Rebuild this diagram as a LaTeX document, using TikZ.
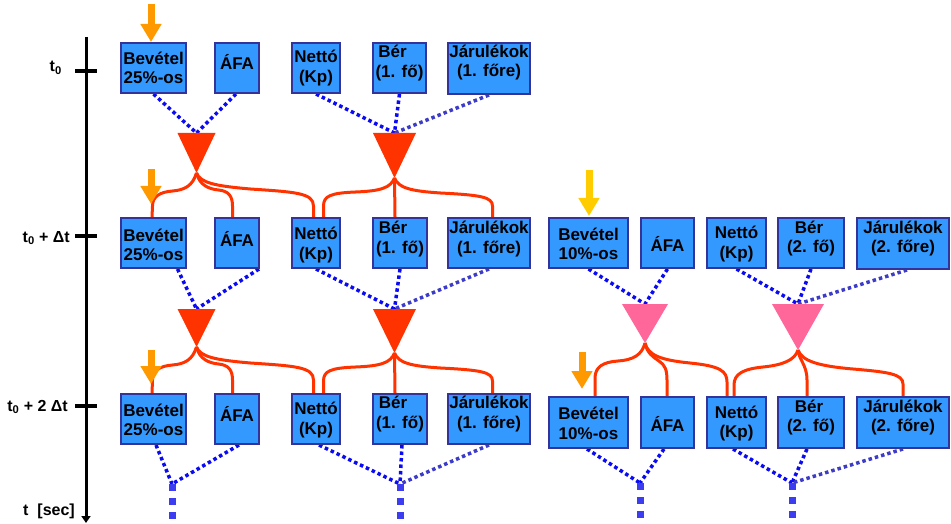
\documentclass[tikz,border=0pt]{standalone}
\usepackage{fontspec}
\setmainfont{Liberation Sans}
\usetikzlibrary{arrows.meta,calc,backgrounds}
\definecolor{boxfill}{HTML}{3399FF}
\definecolor{boxline}{HTML}{333399}
\definecolor{redc}{HTML}{FF3300}
\definecolor{pinkc}{HTML}{FF6699}
\definecolor{orangec}{HTML}{FF9900}
\definecolor{yellowc}{HTML}{FFCC00}
\definecolor{dotc}{HTML}{0A0AF5}
\definecolor{jdotc}{HTML}{3C3CC8}
\definecolor{sqc}{HTML}{3C3CF0}

% box: name x1 y1 x2 y2 text dy
\newcommand\bx[7]{%
  \node[box, minimum width={(#4-#2-2)*1pt}, minimum height={(#5-#3-2)*1pt}] (#1) at ({(#2+#4)/2},{(#3+#5)/2}) {};
  \node[boxtext] (#1-t) at ([yshift=#7pt]#1.center) {#6};}
% triangle: name cx ytop halfwidth yapex colour
\newcommand\mytri[6]{%
  \coordinate (#1t) at (#2,#3);
  \coordinate (#1a) at (#2,#5);
  \fill[#6] ($(#1t)+(-#4,0)$) -- ($(#1t)+(#4,0)$) -- (#1a) -- cycle;}
% left fan of wires: apex1 apex2 row prefix
\newcommand\leftfan[3]{%
  \begin{scope}[shift={(#1)}]
  \draw[wire] (#1) .. controls (-4,13) and (-12,17) .. (-24,18) .. controls (-36,19) and (-44,23) .. (-44,33) -- ([xshift=-1.5pt]#3bev.north);
  \draw[wire] (#1) .. controls (3,12) and (12,16) .. (22,17) .. controls (32,18) and (36,23) .. (36,33) -- ([xshift=-4.5pt]#3afa.north);
  \draw[wire] (#1) .. controls (4,10) and (19,13) .. (54,16) .. controls (99,19) and (117,20) .. (117,33) -- ([xshift=-2.5pt]#3net.north);
  \end{scope}
  \begin{scope}[shift={(#2)}]
  \draw[wire] (#2) .. controls (-4,10) and (-14,13) .. (-39,14) .. controls (-64,15) and (-71,18) .. (-71,28) -- ([xshift=7.5pt]#3net.north);
  \draw[wire] (#2) -- ([xshift=-5pt]#3ber.north);
  \draw[wire] (#2) .. controls (4,10) and (16,13) .. (46,15) .. controls (86,17) and (98,19) .. (98,28) -- ([xshift=3.5pt]#3jar.north);
  \end{scope}}

\begin{document}
\begin{tikzpicture}[x=1pt,y=-1pt,
  box/.style={draw=boxline,fill=boxfill,line width=2pt,inner sep=0pt,rectangle},
  boxtext/.style={font=\bfseries\fontsize{17}{19.5}\selectfont,align=center,inner sep=0pt},
  dots/.style={draw=dotc,line width=3.5pt,dash pattern=on 3.5pt off 3pt},
  jdots/.style={dots,draw=jdotc},
  sq/.style={draw=sqc,line width=7pt,dash pattern=on 7pt off 7pt},
  wire/.style={draw=redc,line width=3pt},
  fat/.style={line width=7pt,-{Triangle[width=20pt,length=18pt]}},
  lab/.style={font=\bfseries\fontsize{16}{19}\selectfont,anchor=base east,inner sep=0pt}]

\useasboundingbox (0,0) rectangle (951,524);

% time axis
\coordinate (axtop) at (86,37);
\coordinate (axbot) at (86,523);
\draw[line width=3pt,-{Triangle[width=9pt,length=7pt]}] (axtop) -- (axbot);
\foreach \n/\y in {k0/71,k1/236,k2/406}{
  \coordinate (\n) at (86,\y);
  \draw[line width=4pt] ([xshift=-11pt]\n) -- ([xshift=11pt]\n);}
\node[lab] (l0) at (62,72) {t\textsubscript{0}};
\node[lab] (l1) at (70,242) {t\textsubscript{0} + Δt};
\node[lab] (l2) at (68,411) {t\textsubscript{0} + 2 Δt};
\node[lab] (l3) at (75,515) {t\ \ [sec]};

% row 1
\bx{r1bev}{120}{42}{187}{94}{Bevétel\\25\%-os}{0}
\bx{r1afa}{214}{42}{260}{94}{ÁFA}{6}
\bx{r1net}{291}{42}{341}{94}{Nettó\\(Kp)}{0}
\bx{r1ber}{372}{42}{427}{94}{Bér\kern14pt\\(1. fő)}{5}
\bx{r1jar}{447}{42}{531}{95}{Járulékok\\(1. főre)}{6}

% row 2 left
\bx{r2bev}{120}{217}{187}{269}{Bevétel\\25\%-os}{-2}
\bx{r2afa}{214}{217}{260}{269}{ÁFA}{4}
\bx{r2net}{291}{217}{341}{269}{Nettó\\(Kp)}{-2}
\bx{r2ber}{372}{217}{428}{269}{Bér\kern14pt\\(1. fő)}{4}
\bx{r2jar}{447}{217}{531}{269}{Járulékok\\(1. főre)}{4}

% row 2 right
\bx{q2bev}{548}{217}{629}{269}{Bevétel\\10\%-os}{-1}
\bx{q2afa}{640}{217}{695}{269}{ÁFA}{-1}
\bx{q2net}{706}{217}{767}{269}{Nettó\\(Kp)}{-1}
\bx{q2ber}{777}{217}{845}{269}{Bér\kern4pt\\(2. fő)}{4.5}
\bx{q2jar}{856}{217}{950}{270}{Járulékok\\(2. főre)}{5}

% row 3 left
\bx{r3bev}{120}{393}{187}{445}{Bevétel\\25\%-os}{-1}
\bx{r3afa}{214}{393}{260}{445}{ÁFA}{5}
\bx{r3net}{291}{393}{341}{445}{Nettó\\(Kp)}{-1}
\bx{r3ber}{372}{393}{428}{445}{Bér\kern14pt\\(1. fő)}{5}
\bx{r3jar}{447}{393}{531}{445}{Járulékok\\(1. főre)}{5}

% row 3 right
\bx{q3bev}{548}{396}{629}{449}{Bevétel\\10\%-os}{-1}
\bx{q3afa}{640}{396}{695}{449}{ÁFA}{-1.5}
\bx{q3net}{706}{396}{767}{449}{Nettó\\(Kp)}{-1}
\bx{q3ber}{777}{396}{845}{449}{Bér\kern4pt\\(2. fő)}{5}
\bx{q3jar}{856}{396}{950}{449}{Járulékok\\(2. főre)}{5}

% triangles
\mytri{T1}{196.5}{133}{19}{173}{redc}
\mytri{T2}{394.5}{133}{21.5}{178}{redc}
\mytri{U1}{196.5}{309}{19}{347}{redc}
\mytri{U2}{394.5}{309}{21.5}{353}{redc}
\mytri{P1}{645}{304}{23}{343}{pinkc}
\mytri{P2}{798}{304}{26}{350}{pinkc}

\coordinate (J1) at (172,484);
\coordinate (J2) at (400,484);
\coordinate (K1) at (640,483);
\coordinate (K2) at (792,483);

\begin{scope}[on background layer]
% dotted inputs, row 1
\draw[dots] (r1bev.south) -- (T1t);
\draw[dots] ([xshift=-1pt]r1afa.south) -- (T1t);
\draw[dots] (r1net.south) -- (T2t);
\draw[dots] (r1ber.south) -- (T2t);
\draw[jdots] (r1jar.south) -- (T2t);
% row 2 left
\draw[dots] ([xshift=24pt]r2bev.south) -- (U1t);
\draw[dots] ([xshift=22pt]r2afa.south) -- (U1t);
\draw[dots] (r2net.south) -- (U2t);
\draw[dots] (r2ber.south) -- (U2t);
\draw[jdots] (r2jar.south) -- (U2t);
% row 2 right
\draw[dots] (q2bev.south) -- (P1t);
\draw[dots] (q2afa.south) -- (P1t);
\draw[dots] (q2net.south) -- (P2t);
\draw[dots] (q2ber.south) -- (P2t);
\draw[jdots] ([xshift=4pt]q2jar.south) -- (P2t);
% row 3 left
\draw[dots] ([xshift=2.5pt]r3bev.south) -- (J1);
\draw[dots] ([xshift=2pt]r3afa.south) -- (J1);
\draw[dots] ([xshift=3pt]r3net.south) -- (J2);
\draw[dots] ([xshift=2pt]r3ber.south) -- (J2);
\draw[jdots] (r3jar.south) -- (J2);
\draw[sq] (J1) -- ++(0,36);
\draw[sq] (J2) -- ++(0,36);
% row 3 right
\draw[dots] ([xshift=-1.5pt]q3bev.south) -- (K1);
\draw[dots] ([xshift=-3.5pt]q3afa.south) -- (K1);
\draw[dots] ([xshift=-3.5pt]q3net.south) -- (K2);
\draw[dots] ([xshift=-4pt]q3ber.south) -- (K2);
\draw[jdots] (q3jar.south) -- (K2);
\draw[sq] (K1) -- ++(0,36);
\draw[sq] (K2) -- ++(0,36);

% red wires
\leftfan{T1a}{T2a}{r2}
\leftfan{U1a}{U2a}{r3}
\begin{scope}[shift={(P1a)}]
\draw[wire] (P1a) .. controls (-3,12) and (-12,17) .. (-27,18) .. controls (-42,19) and (-50,24) .. (-50,35) -- ([xshift=6.5pt]q3bev.north);
\draw[wire] (P1a) .. controls (2,10) and (8,14) .. (14,18) .. controls (20,22) and (22,27) .. (22,37) -- ([xshift=-0.5pt]q3afa.north);
\draw[wire] (P1a) .. controls (3,12) and (15,17) .. (45,20) .. controls (75,23) and (82,28) .. (82,39) -- ([xshift=-9.5pt]q3net.north);
\end{scope}
\begin{scope}[shift={(P2a)}]
\draw[wire] (P2a) .. controls (-3,10) and (-15,15) .. (-35,17) .. controls (-55,19) and (-64,24) .. (-64,35) -- ([xshift=-2.5pt]q3net.north);
\draw[wire] (P2a) .. controls (1,10) and (9,15) .. (9,30) -- ([xshift=-4pt]q3ber.north);
\draw[wire] (P2a) .. controls (4,11) and (20,16) .. (55,19) .. controls (90,22) and (105,24) .. (105,34) -- (q3jar.north);
\end{scope}
\end{scope}

% fat input arrows
\draw[fat,orangec] ([xshift=-2.5pt,yshift=38pt]r1bev.north) -- ([xshift=-2.5pt]r1bev.north);
\draw[fat,orangec] ([xshift=-2.5pt,yshift=48pt]r2bev.north) -- ([xshift=-2.5pt,yshift=13pt]r2bev.north);
\draw[fat,yellowc] ([xshift=0.5pt,yshift=47pt]q2bev.north) -- ([xshift=0.5pt,yshift=1pt]q2bev.north);
\draw[fat,orangec] ([xshift=-2.5pt,yshift=43pt]r3bev.north) -- ([xshift=-2.5pt,yshift=9pt]r3bev.north);
\draw[fat,orangec] ([xshift=-6.5pt,yshift=44pt]q3bev.north) -- ([xshift=-6.5pt,yshift=7pt]q3bev.north);
\end{tikzpicture}
\end{document}
